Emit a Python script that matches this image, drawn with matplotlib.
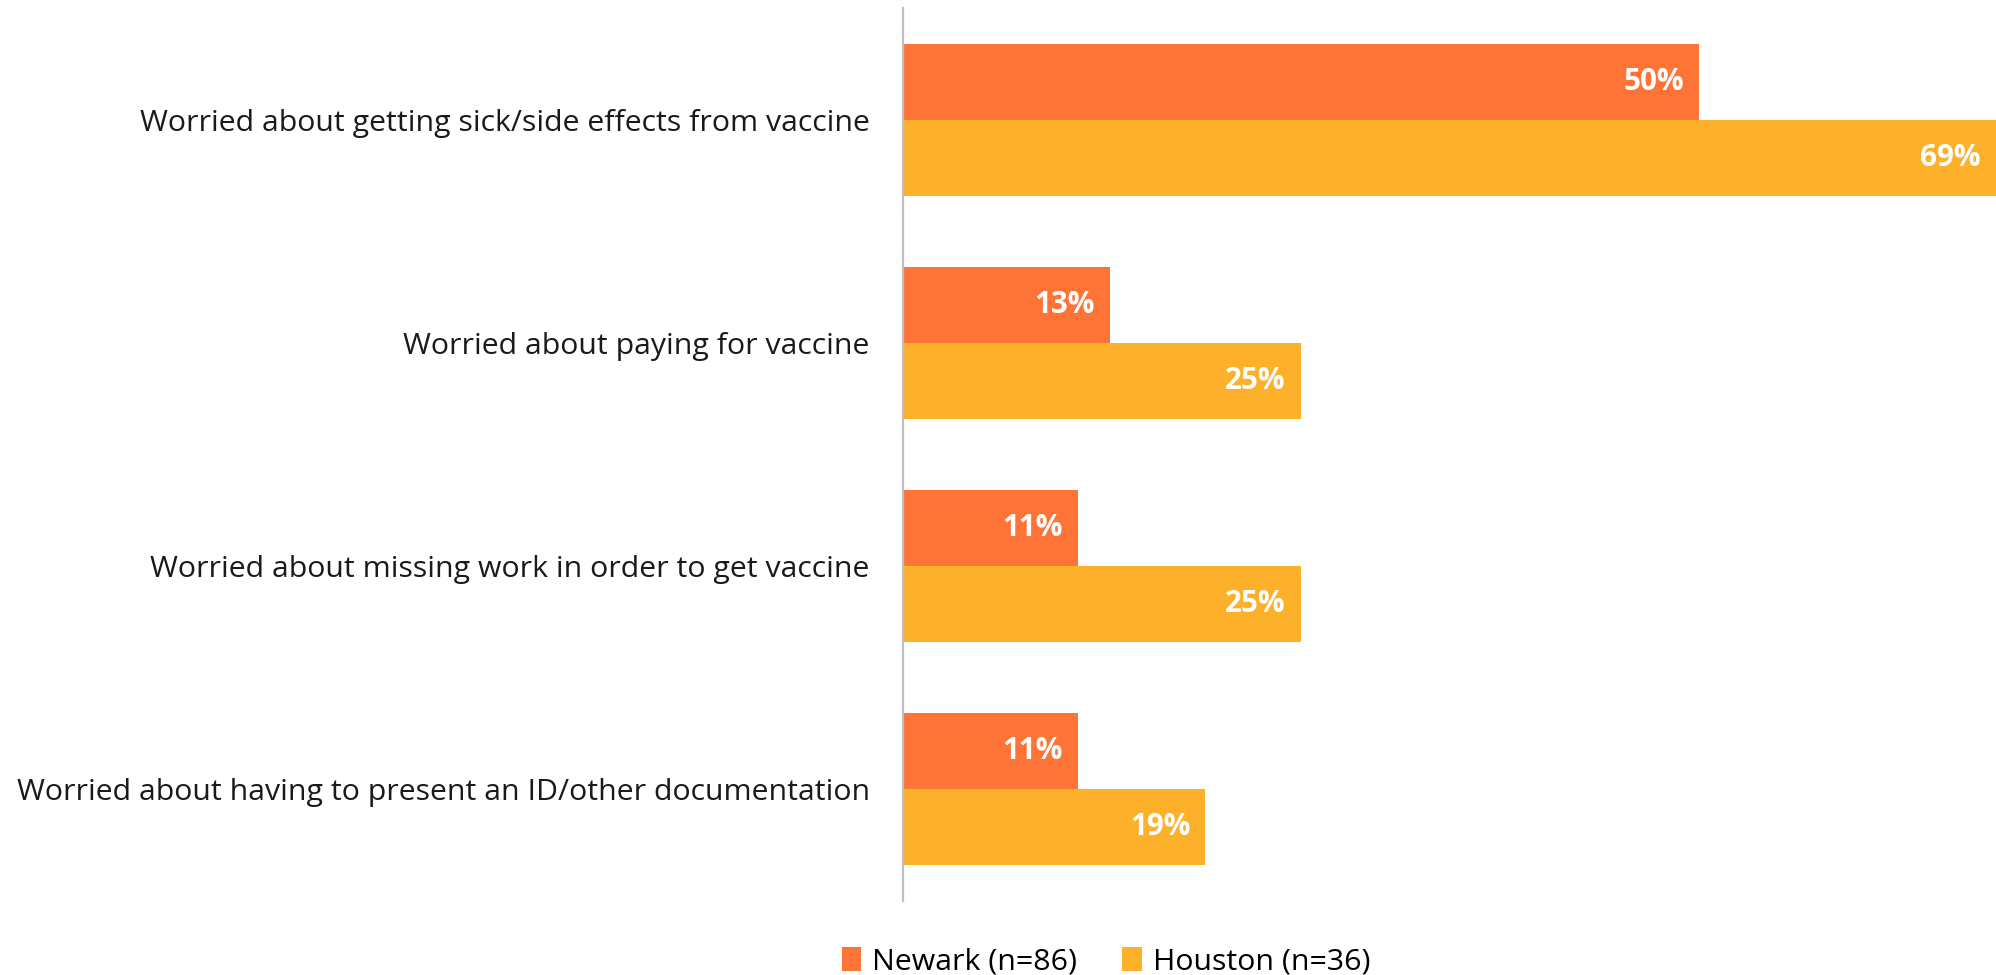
import matplotlib
matplotlib.use("Agg")
import matplotlib.pyplot as plt
from matplotlib.patches import Patch
import numpy as np

plt.rcParams['font.family'] = ['Open Sans', 'DejaVu Sans']

categories = [
    "Worried about getting sick/side effects from vaccine",
    "Worried about paying for vaccine",
    "Worried about missing work in order to get vaccine",
    "Worried about having to present an ID/other documentation",
]
series_names = ["Newark (n=86)", "Houston (n=36)"]
newark = [50, 13, 11, 11]
houston = [69, 25, 25, 19]
colors = ["#FE7436", "#FDB02A"]

fig = plt.figure(figsize=(19.96, 9.75), dpi=100)
ax = fig.add_axes([903 / 1996, 1 - 901 / 975, 1 - 903 / 1996, (901 - 8) / 975])

y = np.arange(len(categories))
h = 0.34
bars_n = ax.barh(y - h / 2, newark, height=h, color=colors[0])
bars_h = ax.barh(y + h / 2, houston, height=h, color=colors[1])

ax.set_xlim(0, 50 * 1093 / 796)
ax.set_ylim(len(categories) - 0.5, -0.5)

for bars, vals in ((bars_n, newark), (bars_h, houston)):
    for b, v in zip(bars, vals):
        ax.annotate(f"{v}%", xy=(min(v, ax.get_xlim()[1]), b.get_y() + b.get_height() / 2),
                    xytext=(-11, 0), textcoords="offset points",
                    ha="right", va="center", color="white",
                    fontsize=21.3, fontweight="bold")

ax.set_yticks(y)
ax.set_yticklabels(categories, fontsize=21.8, color="#1a1a1a")
ax.tick_params(axis="y", length=0, pad=24)
ax.set_xticks([])
for s in ("top", "right", "bottom"):
    ax.spines[s].set_visible(False)
ax.spines["left"].set_color("#BFBFBF")
ax.spines["left"].set_linewidth(1.6)

handles = [Patch(facecolor=c, edgecolor="none") for c in colors]
fig.legend(handles, series_names, loc="center", bbox_to_anchor=(0.554, 0.014),
           ncol=2, frameon=False, fontsize=21.8, handlelength=0.65, handleheight=0.85,
           handletextpad=0.35, columnspacing=1.5)

fig.savefig("out.png", dpi=100, facecolor="white")
